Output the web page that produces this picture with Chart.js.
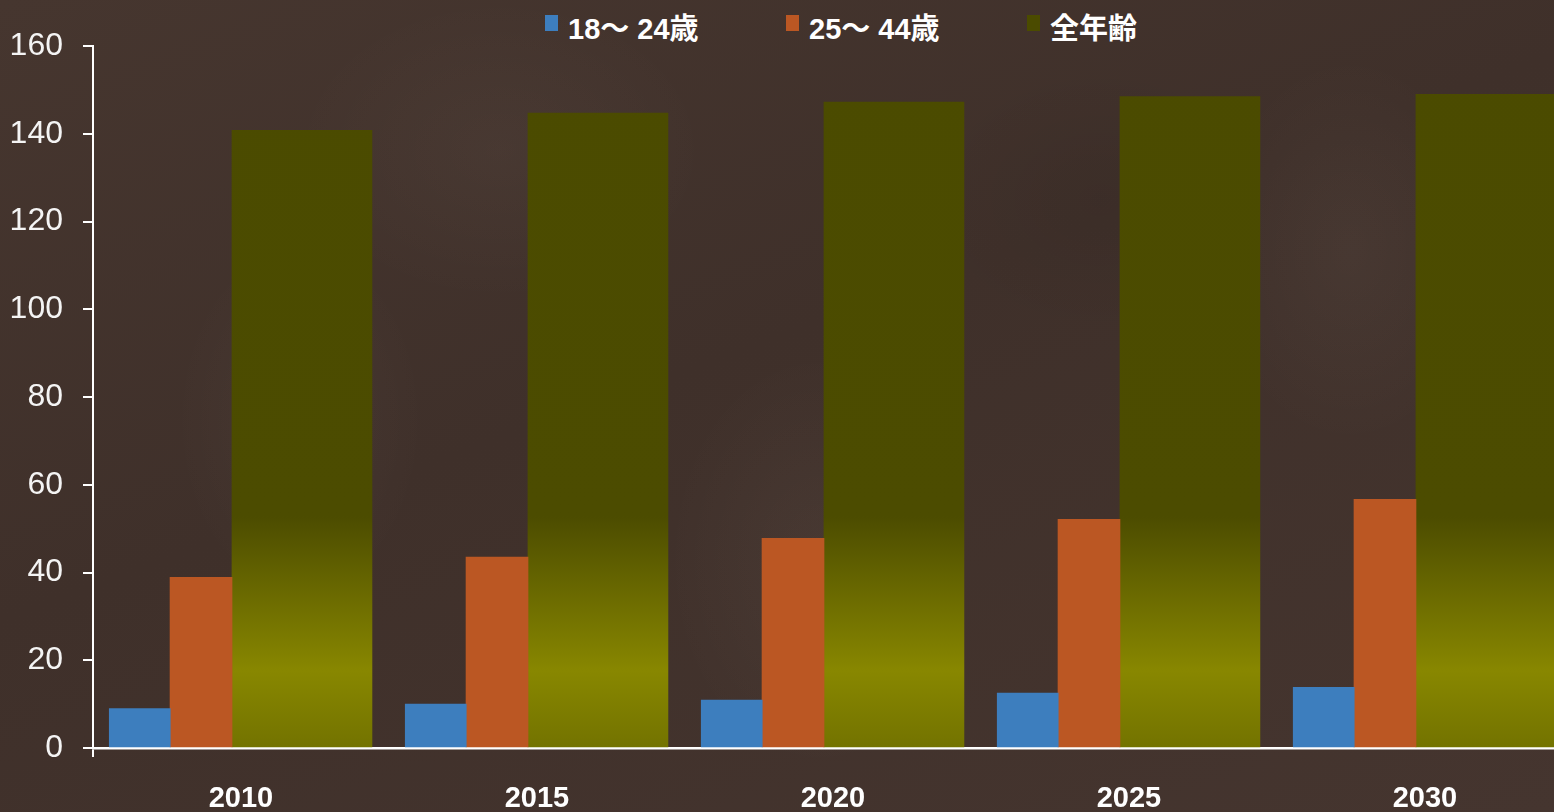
<!DOCTYPE html>
<html>
<head>
<meta charset="utf-8">
<script src="https://cdn.jsdelivr.net/npm/chart.js@4.4.1/dist/chart.umd.min.js"></script>
<style>
  html, body {
    margin: 0;
    padding: 0;
    width: 1554px;
    height: 812px;
    overflow: hidden;
  }
  body {
    position: relative;
    background-color: #41322c;
    background-image:
      radial-gradient(ellipse 180px 260px at 300px 420px, rgba(255,235,220,0.035), transparent 70%),
      radial-gradient(ellipse 220px 300px at 820px 560px, rgba(255,235,220,0.04), transparent 70%),
      radial-gradient(ellipse 200px 280px at 1350px 250px, rgba(255,235,220,0.04), transparent 70%),
      radial-gradient(ellipse 260px 200px at 1100px 200px, rgba(0,0,0,0.06), transparent 70%),
      radial-gradient(ellipse 300px 220px at 500px 150px, rgba(255,235,220,0.03), transparent 70%),
      linear-gradient(160deg, #46362f 0%, #3f302a 45%, #45352f 100%);
  }
  #legend {
    position: absolute;
    top: 5px;
    left: 545px;
    display: flex;
    color: #ffffff;
    font: bold 29px "Liberation Sans", Arial, "Noto Sans CJK JP", sans-serif;
    white-space: nowrap;
  }
  #legend .item {
    display: flex;
    align-items: center;
    width: 241px;
  }
  #legend .box {
    width: 13px;
    height: 16px;
    margin-right: 10px;
    margin-top: -6px;
  }
  #chart {
    position: absolute;
    left: 0;
    top: 0;
  }
</style>
</head>
<body>
<div id="legend"></div>
<canvas id="chart" width="1554" height="840"></canvas>
<script>
const years = ["2010", "2015", "2020", "2025", "2030"];
const seriesNames = ["18～ 24歳", "25～ 44歳", "全年齢"];
const age18to24 = [9.0, 10.0, 10.9, 12.5, 13.8];
const age25to44 = [38.9, 43.5, 47.8, 52.1, 56.7];
const allAges = [140.8, 144.7, 147.2, 148.5, 149.0];
const yTicks = [0, 20, 40, 60, 80, 100, 120, 140, 160];

const blue = "#3d7ebe";
const orange = "#bb5723";
const olive = "#4b4b00";
const sans = "'Liberation Sans', Arial, sans-serif";

// where each series sits inside a year group (category units) and how wide (px)
const offsets = [-0.342, -0.135, 0.206];
const widths = [61, 62, 140];

const toPoints = (values, k) => values.map((v, i) => ({ x: i + offsets[k], y: v }));

const oliveFill = (ctx) => {
  const area = ctx.chart.chartArea;
  if (!area) return olive;
  const g = ctx.chart.ctx.createLinearGradient(0, area.top, 0, area.bottom);
  g.addColorStop(0, "#4b4b00");
  g.addColorStop(0.67, "#4c4c00");
  g.addColorStop(0.89, "#888700");
  g.addColorStop(1, "#737300");
  return g;
};

// html legend
const legendColors = [blue, orange, olive];
const legendEl = document.getElementById("legend");
seriesNames.forEach((name, k) => {
  const item = document.createElement("div");
  item.className = "item";
  const box = document.createElement("span");
  box.className = "box";
  box.style.background = legendColors[k];
  const label = document.createElement("span");
  label.textContent = name;
  item.appendChild(box);
  item.appendChild(label);
  legendEl.appendChild(item);
});

new Chart("chart", {
  type: "bar",
  data: {
    datasets: [
      { label: seriesNames[0], data: toPoints(age18to24, 0), backgroundColor: blue, barThickness: widths[0] },
      { label: seriesNames[1], data: toPoints(age25to44, 1), backgroundColor: orange, barThickness: widths[1] },
      { label: seriesNames[2], data: toPoints(allAges, 2), backgroundColor: oliveFill, barThickness: widths[2] },
    ],
  },
  options: {
    responsive: false,
    animation: false,
    grouped: false,
    layout: {
      padding: { top: 46, left: 10, right: 0, bottom: 0 },
    },
    plugins: {
      legend: { display: false },
      tooltip: { enabled: false },
    },
    scales: {
      x: {
        type: "linear",
        offset: false,
        min: -0.5,
        max: 4.436,
        afterBuildTicks: (scale) => {
          scale.ticks = [{ value: -0.5 }].concat(years.map((_, i) => ({ value: i })));
        },
        ticks: {
          autoSkip: false,
          maxRotation: 0,
          padding: 27,
          color: "#ffffff",
          font: { family: sans, size: 29, weight: "bold", lineHeight: 1.0 },
          callback: (value) => years[value] ?? "",
        },
        grid: {
          offset: false,
          drawOnChartArea: false,
          tickLength: 9,
          lineWidth: 2,
          color: (ctx) => (ctx.tick && ctx.tick.value === -0.5 ? "#ffffff" : "transparent"),
        },
        border: { color: "#ffffff", width: 2.5 },
      },
      y: {
        min: 0,
        max: 160,
        afterBuildTicks: (scale) => {
          scale.ticks = yTicks.map((v) => ({ value: v }));
        },
        afterFit: (scale) => {
          scale.width = 83;
        },
        ticks: {
          padding: 20,
          color: "#f4f4f4",
          font: { family: sans, size: 32 },
        },
        grid: {
          drawOnChartArea: false,
          tickLength: 10,
          lineWidth: 2,
          color: "#ffffff",
        },
        border: { color: "#ffffff", width: 2 },
      },
    },
  },
});
</script>
</body>
</html>
